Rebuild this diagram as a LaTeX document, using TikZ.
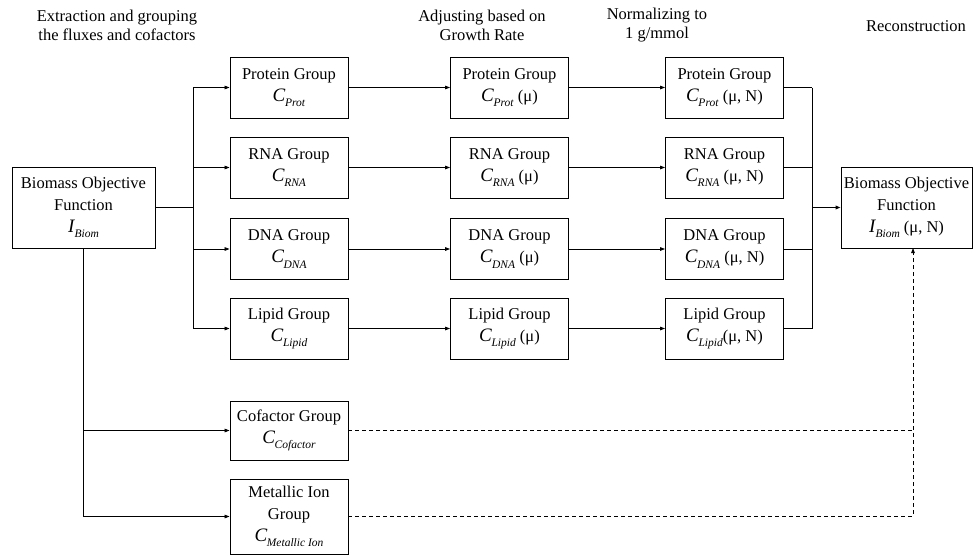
\documentclass[tikz,border=0pt]{standalone}
\usepackage{fontspec}
\setmainfont{Liberation Serif}
\usetikzlibrary{arrows.meta,calc}
\newcommand\Csb[2]{{\fontsize{19}{21}\selectfont\textit{#1}}\kern-0.5pt\raisebox{-5.5pt}{\fontsize{11.5}{12}\selectfont\textit{#2}}}
\begin{document}
\begin{tikzpicture}[x=1pt,y=-1pt,
  box/.style={draw,line width=0.9pt,align=center,inner sep=0pt,minimum width=118pt,minimum height=61pt,font=\fontsize{16.5}{22}\selectfont},
  hdr/.style={align=center,font=\fontsize{16.5}{19}\selectfont},
  ln/.style={line width=0.8pt},
  thk/.style={line width=1.5pt},
  arr/.style={-{Triangle[length=5pt,width=3.6pt]}},
  dsh/.style={line width=0.8pt,dash pattern=on 4pt off 3pt}]
\useasboundingbox (0,0) rectangle (974,557);
% headers
\node[hdr] (h1) at (117,25) {Extraction and grouping\\the fluxes and cofactors};
\node[hdr] (h2) at (482,25) {Adjusting based on\\Growth Rate};
\node[hdr] (h3) at (657,25) {Normalizing to\\1 g/mmol};
\node[hdr] (h4) at (916,26) {Reconstruction};
% left box
\node[box,minimum width=143pt,minimum height=81pt] (L) at (83.5,207.5) {Biomass Objective\\Function\\\Csb{I}{Biom}};
% column 1
\node[box] (p1) at (289,87.5) {Protein Group\\\Csb{C}{Prot}};
\node[box] (r1) at (289,167.5) {RNA Group\\\Csb{C}{RNA}};
\node[box] (d1) at (289,249) {DNA Group\\\Csb{C}{DNA}};
\node[box] (l1) at (289,328.5) {Lipid Group\\\Csb{C}{Lipid}};
\node[box,minimum height=59pt] (c1) at (289,430.5) {Cofactor Group\\\Csb{C}{Cofactor}};
\node[box,minimum height=75pt] (m1) at (289,516.5) {Metallic Ion\\Group\\\Csb{C}{Metallic Ion}};
% column 2
\node[box] (p2) at (509.5,87.5) {Protein Group\\\Csb{C}{Prot} (μ)};
\node[box] (r2) at (509.5,167.5) {RNA Group\\\Csb{C}{RNA} (μ)};
\node[box] (d2) at (509.5,249) {DNA Group\\\Csb{C}{DNA} (μ)};
\node[box] (l2) at (509.5,328.5) {Lipid Group\\\Csb{C}{Lipid} (μ)};
% column 3
\node[box] (p3) at (724.5,87.5) {Protein Group\\\Csb{C}{Prot} (μ, N)};
\node[box] (r3) at (724.5,167.5) {RNA Group\\\Csb{C}{RNA} (μ, N)};
\node[box] (d3) at (724.5,249) {DNA Group\\\Csb{C}{DNA} (μ, N)};
\node[box] (l3) at (724.5,328.5) {Lipid Group\\\Csb{C}{Lipid}(μ, N)};
% right box
\node[box,minimum width=131pt,minimum height=81pt] (R) at (906.5,207.5) {Biomass Objective\\Function\\\Csb{I}{Biom} (μ, N)};
% bus coordinates
\coordinate (b1) at (193,87.5);
\coordinate (b1e) at (193,328.5);
\coordinate (b3) at (812,87.5);
\coordinate (b3e) at (812,328.5);
\coordinate (rin) at (913,248);
% left to column 1
\draw[thk] (L.east) -- (L.east -| b1);
\draw[ln] (b1) -- (b1e);
\foreach \n in {p1,r1,d1,l1}{\draw[ln,arr] (\n.west -| b1) -- (\n.west);}
\draw[ln] (L.south) -- (L.south |- m1.west);
\draw[ln,arr] (L.south |- c1.west) -- (c1.west);
\draw[ln,arr] (L.south |- m1.west) -- (m1.west);
% column 1 to 2 to 3
\foreach \a/\b in {p1/p2,r1/r2,d1/d2,l1/l2,p2/p3,r2/r3,d2/d3,l2/l3}{\draw[ln,arr] (\a.east) -- (\b.west);}
% column 3 to right
\foreach \n in {p3,r3,d3,l3}{\draw[ln] (\n.east) -- (\n.east -| b3);}
\draw[ln] (b3) -- (b3e);
\draw[thk,arr] (R.west -| b3) -- (R.west);
% dashed
\draw[dsh] (c1.east) -- (c1.east -| rin);
\draw[dsh,arr] (m1.east) -| (rin);
\end{tikzpicture}
\end{document}
